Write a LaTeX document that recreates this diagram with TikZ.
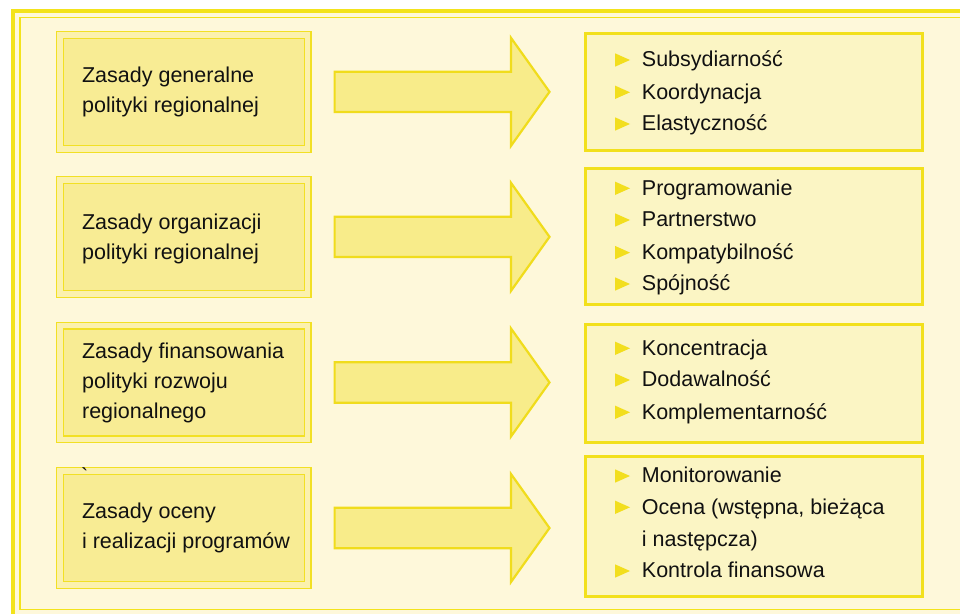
\documentclass[tikz,border=0pt]{standalone}
\usepackage{fontspec}
\newfontfamily\lib{Liberation Sans}
\usetikzlibrary{calc}
\definecolor{frameY}{HTML}{F3E31B}
\definecolor{creamBG}{HTML}{FEF8DA}
\definecolor{lineY}{HTML}{F2E024}
\definecolor{bandY}{HTML}{FBF1AE}
\definecolor{lfillY}{HTML}{F8EC94}
\definecolor{rlineY}{HTML}{F2E01C}
\definecolor{rfillY}{HTML}{FBF5C4}
\definecolor{arrF}{HTML}{F8EC8A}
\definecolor{arrD}{HTML}{F0DC1C}
\definecolor{bulY}{HTML}{F2DE1E}
\definecolor{txt}{HTML}{111111}
\newcommand\flowarrow[2]{%
  \draw[bigarrow] let \p1=(#1.east), \p2=(#2.west) in
    (\x1+27pt,\y1+20.2pt) -- (\x2-74.5pt,\y1+20.2pt) -- (\x2-74.5pt,\y1+54pt)
    -- (\x2-36pt,\y1) -- (\x2-74.5pt,\y1-54pt) -- (\x2-74.5pt,\y1-20.2pt)
    -- (\x1+27pt,\y1-20.2pt) -- cycle;}
\newcommand\bitem[3]{%
  \node[itxt] (#1) at (641.7,#2) {#3};
  \fill[bul] ([xshift=-26.7pt]#1.base west) -- ([xshift=-26.7pt,yshift=13.4pt]#1.base west)
    -- ([xshift=-11.7pt,yshift=6.7pt]#1.base west) -- cycle;}
\begin{document}
\begin{tikzpicture}[x=1pt,y=-1pt,
  lbox/.style={rectangle, draw=lineY, double=bandY, double distance=5.6pt, line width=1.2pt,
    fill=lfillY, minimum width=247.7pt, minimum height=113.9pt, inner sep=0pt, outer sep=0pt},
  rbox/.style={rectangle, draw=rlineY, line width=3pt, fill=rfillY, minimum width=336.5pt,
    inner sep=0pt, outer sep=0pt},
  ltxt/.style={anchor=west, align=left, font=\lib\fontsize{21.5}{30}\selectfont, text=txt, inner sep=0pt},
  itxt/.style={anchor=base west, font=\lib\fontsize{21.5}{30}\selectfont, text=txt, inner sep=0pt},
  bigarrow/.style={fill=arrF, draw=arrD, line width=2.2pt, line join=miter},
  bul/.style={fill=bulY}
]
\useasboundingbox (0,0) rectangle (960,613);
\clip (0,0) rectangle (960,613);
\fill[white] (0,0) rectangle (960,613);
\draw[line width=4.5pt, draw=frameY, fill=creamBG] (13,10.8) rectangle (1000,650);
\draw[line width=1.5pt, draw=frameY] (20,17.5) rectangle (1000,609.5);

% left boxes
\node[lbox] (L1) at (183.75,91.85) {};
\node[lbox] (L2) at (183.75,236.85) {};
\node[lbox] (L3) at (183.75,382.45) {};
\node[lbox] (L4) at (183.75,528) {};
\node[ltxt] (T1) at ([xshift=22pt]L1.west) {Zasady generalne\\polityki regionalnej};
\node[ltxt] (T2) at ([xshift=22pt,yshift=-2pt]L2.west) {Zasady organizacji\\polityki regionalnej};
\node[ltxt] (T3) at ([xshift=22pt]L3.west) {Zasady finansowania\\polityki rozwoju\\regionalnego};
\node[ltxt] (T4) at ([xshift=22pt]L4.west) {Zasady oceny\\i realizacji programów};
\node[itxt, font=\lib\fontsize{21.5}{30}\selectfont] (tick) at (81,483.5) {`};

% right boxes
\node[rbox, minimum height=117.6pt] (R1) at (753.75,92) {};
\node[rbox, minimum height=136.6pt] (R2) at (753.75,236.5) {};
\node[rbox, minimum height=118.2pt] (R3) at (753.75,383.1) {};
\node[rbox, minimum height=139.7pt] (R4) at (753.75,526.15) {};

% arrows
\flowarrow{L1}{R1}
\flowarrow{L2}{R2}
\flowarrow{L3}{R3}
\flowarrow{L4}{R4}

% items
\bitem{a1}{66.7}{Subsydiarność}
\bitem{a2}{99}{Koordynacja}
\bitem{a3}{130.7}{Elastyczność}
\bitem{b1}{195}{Programowanie}
\bitem{b2}{226.7}{Partnerstwo}
\bitem{b3}{259.3}{Kompatybilność}
\bitem{b4}{290.7}{Spójność}
\bitem{c1}{355}{Koncentracja}
\bitem{c2}{386.7}{Dodawalność}
\bitem{c3}{419}{Komplementarność}
\bitem{d1}{482.7}{Monitorowanie}
\bitem{d2}{514}{Ocena (wstępna, bieżąca}
\node[itxt] (d2b) at (641.7,546) {i następcza)};
\bitem{d3}{577.7}{Kontrola finansowa}
\end{tikzpicture}
\end{document}
